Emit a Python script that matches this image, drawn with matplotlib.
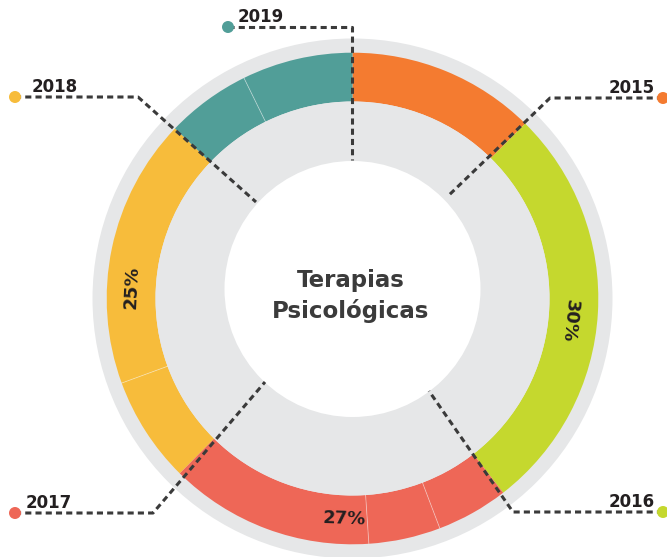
import matplotlib
matplotlib.use("Agg")
import matplotlib.pyplot as plt
from matplotlib.patches import Circle
import numpy as np

# ---------------- data ----------------
years = ["2015", "2016", "2017", "2018", "2019"]
year_colors = ["#F47B30", "#C5D82E", "#EE6757", "#F7BC3B", "#519E98"]
# sub-segments of each year's arc (percent of the full ring), clockwise from top
year_parts = [
    [12.4],
    [27.1],
    [4.72, 4.72, 13.47],
    [7.0, 17.75],
    [5.56, 7.28],
]
pct_labels = ["", "30%", "27%", "25%", ""]
title_lines = ["Terapias", "Psicológicas"]

# ---------------- layout (pixel units) ----------------
W, H = 667, 557
ring_c = (352.5, 298.5)
white_c = (352.5, 289.0)
R_gray = 260.0
R_out = 245.8
R_in = 197.0
R_white = 128.0
GRAY = "#E6E7E8"
DASH = "#3A3A3A"
TXT = "#231F20"

# leader lines: dot, corner, end ; label anchor, alignment
leaders = {
    "2019": dict(pts=[(228, 27), (352, 27), (352, 160)], lab=(238, 22.5), ha="left"),
    "2015": dict(pts=[(663, 98), (550, 98), (447, 197)], lab=(655, 93), ha="right"),
    "2016": dict(pts=[(663, 512), (513, 512), (429, 391)], lab=(655, 507), ha="right"),
    "2017": dict(pts=[(15, 513), (153, 513), (265, 382)], lab=(26, 507.5), ha="left"),
    "2018": dict(pts=[(15, 97), (138, 97), (256, 202)], lab=(32, 92), ha="left"),
}
pct_pos = {"30%": ((570, 321), -96), "27%": ((344.5, 519), -2), "25%": ((131.7, 287.5), 87)}


def P(x, y):
    return (x, H - y)


fig = plt.figure(figsize=(W / 100, H / 100), dpi=100)
ax = fig.add_axes([0, 0, 1, 1])

# outer gray ring background
ax.add_patch(Circle(P(*ring_c), R_gray, color=GRAY, lw=0, zorder=0))

# colored ring via pie
values, colors, boundaries = [], [], []
for parts, col in zip(year_parts, year_colors):
    for i, v in enumerate(parts):
        values.append(v)
        colors.append(col)
        boundaries.append(i > 0)
wedges, _ = ax.pie(values, colors=colors, startangle=90, counterclock=False,
                   radius=R_out, center=P(*ring_c),
                   wedgeprops=dict(width=R_out - R_in, linewidth=0))
for w in wedges:
    w.set_zorder(1)

# faint white sub-division lines
cum = np.cumsum([0] + values)
for v0, isb in zip(cum[:-1], boundaries):
    if isb:
        th = np.deg2rad(90 - v0 / sum(values) * 360)
        cx, cy = P(*ring_c)
        ax.plot([cx + R_in * np.cos(th), cx + R_out * np.cos(th)],
                [cy + R_in * np.sin(th), cy + R_out * np.sin(th)],
                color="white", lw=0.6, alpha=0.45, zorder=2)

# inner gray disk and white centre
ax.add_patch(Circle(P(*ring_c), R_in, color=GRAY, lw=0, zorder=1))
ax.add_patch(Circle(P(*white_c), R_white, color="white", lw=0, zorder=3))

# leader lines + labels
for yr, col in zip(years, year_colors):
    d = leaders[yr]
    xs = [P(*p)[0] for p in d["pts"]]
    ys = [P(*p)[1] for p in d["pts"]]
    ax.plot(xs, ys, color=DASH, lw=2.2, linestyle=(0, (2.0, 1.35)),
            solid_capstyle="butt", dash_capstyle="butt", zorder=5)
    ax.add_patch(Circle(P(*d["pts"][0]), 6, color=col, lw=0, zorder=6))
    ax.text(*P(*d["lab"]), yr, ha=d["ha"], va="baseline", fontsize=12,
            fontweight="bold", color=TXT, family="DejaVu Sans", zorder=6)

# percentage labels
for lab in pct_labels:
    if lab:
        (x, y), rot = pct_pos[lab]
        ax.text(*P(x, y), lab, ha="center", va="center", rotation=rot,
                rotation_mode="anchor", fontsize=13, fontweight="bold",
                color=TXT, family="DejaVu Sans", zorder=6)

# centre title
for line, by in zip(title_lines, [287.3, 318.3]):
    ax.text(*P(351, by), line, ha="center", va="baseline", fontsize=16.5,
            fontweight="bold", color="#3B3B3B", family="DejaVu Sans", zorder=6)

ax.set_xlim(0, W)
ax.set_ylim(0, H)
ax.set_aspect("equal")
ax.axis("off")
fig.savefig("out.png", dpi=100)
